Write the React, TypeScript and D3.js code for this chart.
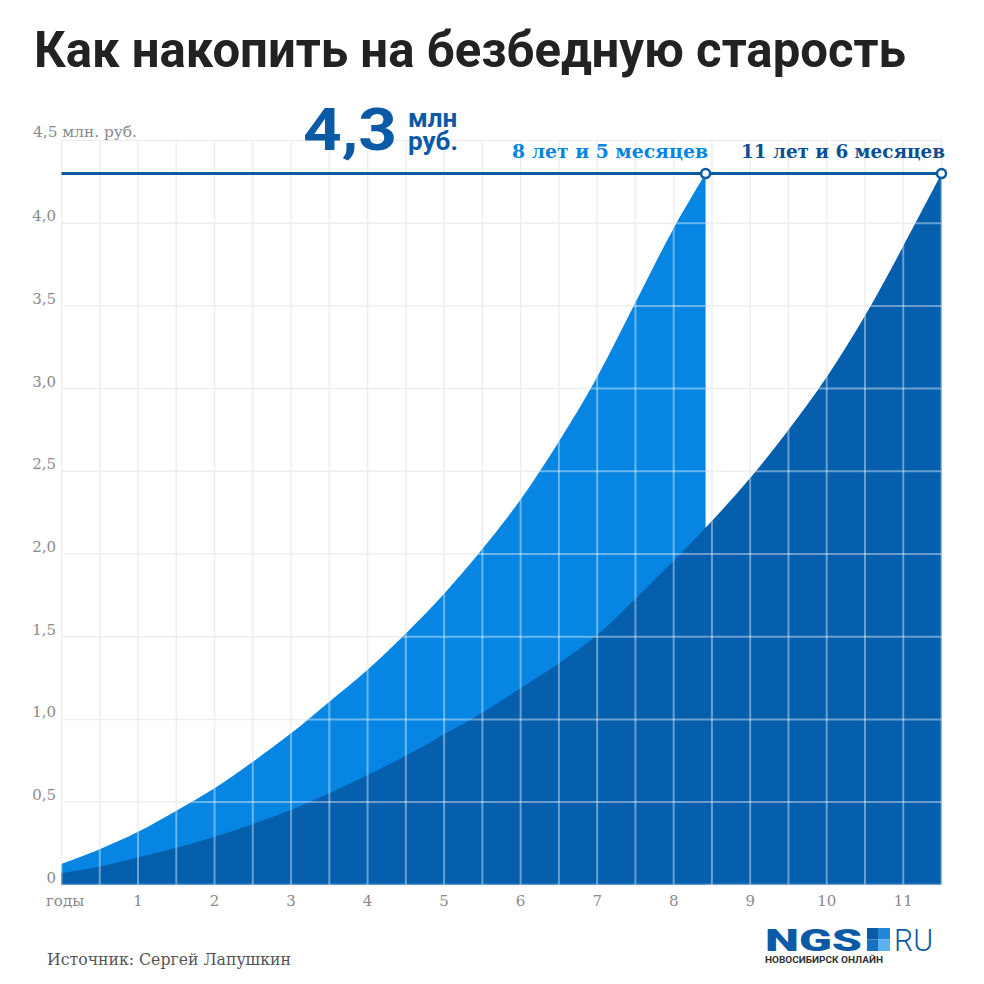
import React from "react";
import * as d3 from "d3";

const lightYears = [0, 0.5, 1, 1.5, 2, 2.5, 3, 3.5, 4, 4.5, 5, 5.5, 6, 6.5, 7, 7.5, 8, 8.417];
const lightValues = [0.126, 0.215, 0.32, 0.448, 0.583, 0.744, 0.916, 1.107, 1.3, 1.52, 1.76, 2.03, 2.33, 2.68, 3.07, 3.52, 3.97, 4.3];

const darkYears = [0, 0.5, 1, 1.5, 2, 2.5, 3, 3.5, 4, 4.5, 5, 5.5, 6, 6.5, 7, 7.5, 8, 8.5, 9, 9.5, 10, 10.5, 11, 11.5];
const darkValues = [0.07, 0.11, 0.166, 0.224, 0.29, 0.368, 0.452, 0.553, 0.664, 0.78, 0.91, 1.04, 1.19, 1.34, 1.51, 1.73, 1.96, 2.2, 2.46, 2.75, 3.07, 3.44, 3.86, 4.3];

const xTicks = [1, 2, 3, 4, 5, 6, 7, 8, 9, 10, 11];
const yTicks = [0, 0.5, 1, 1.5, 2, 2.5, 3, 3.5, 4];
const yTickLabels = ["0", "0,5", "1,0", "1,5", "2,0", "2,5", "3,0", "3,5", "4,0"];
const gridX = [0, 0.5, 1, 1.5, 2, 2.5, 3, 3.5, 4, 4.5, 5, 5.5, 6, 6.5, 7, 7.5, 8, 8.5, 9, 9.5, 10, 10.5, 11, 11.5];
const gridY = [0, 0.5, 1, 1.5, 2, 2.5, 3, 3.5, 4, 4.5];

const target = 4.3;
const lightEnd = 8.417;
const darkEnd = 11.5;

const title = "Как накопить на безбедную старость";
const topLabel = "4,5 млн. руб.";
const xAxisName = "годы";
const bigValue = "4,3";
const unit1 = "млн";
const unit2 = "руб.";
const lightLabel = "8 лет и 5 месяцев";
const darkLabel = "11 лет и 6 месяцев";
const source = "Источник: Сергей Лапушкин";

const LIGHT = "#0686e2";
const DARK = "#055fad";
const LINE = "#0b5aa6";

export default function App() {
  const x = d3.scaleLinear().domain([0, 11.5]).range([61.5, 941.5]);
  const y = d3.scaleLinear().domain([0, 4.5]).range([884.8, 140.5]);

  const area = d3
    .area<[number, number]>()
    .x((d) => x(d[0]))
    .y0(y(0))
    .y1((d) => y(d[1]))
    .curve(d3.curveCatmullRom.alpha(0.5));

  const lightData: [number, number][] = lightYears.map((t, i) => [t, lightValues[i]]);
  const darkData: [number, number][] = darkYears.map((t, i) => [t, darkValues[i]]);

  const slab = "'DejaVu Serif', serif";
  const slabC = "'DejaVu Serif Condensed', 'DejaVu Serif', serif";

  const grid = (stroke: string, w: number) => (
    <g stroke={stroke} strokeWidth={w}>
      {gridX.map((g) => (
        <line key={"gx" + g} x1={x(g)} x2={x(g)} y1={y(4.5)} y2={y(0)} />
      ))}
      {gridY.map((g) => (
        <line key={"gy" + g} x1={x(0)} x2={x(11.5)} y1={y(g)} y2={y(g)} />
      ))}
    </g>
  );

  return (
    <svg width={984} height={984} style={{ position: "absolute", left: 0, top: 0, background: "#fff" }}>
      <rect width={984} height={984} fill="#fff" />
      <text x={34} y={67} fontFamily="Roboto" fontWeight={700} fontSize={50} fill="#222" textLength={872} lengthAdjust="spacingAndGlyphs">
        {title}
      </text>

      {grid("#eeeeee", 1.5)}

      <path d={area(lightData) || ""} fill={LIGHT} />
      <path d={area(darkData) || ""} fill={DARK} />

      <clipPath id="areas">
        <path d={area(lightData) || ""} />
        <path d={area(darkData) || ""} />
      </clipPath>
      <g clipPath="url(#areas)">{grid("rgba(255,255,255,0.4)", 2)}</g>

      {/* y labels */}
      <text x={33} y={137} fontFamily={slab} fontSize={15} fill="#8a8a8a" textLength={104} lengthAdjust="spacingAndGlyphs">
        {topLabel}
      </text>
      {yTicks.map((t, i) => (
        <text key={"yt" + t} x={56} y={y(t) - 2} textAnchor="end" fontFamily={slab} fontSize={15} fill="#8a8a8a">
          {yTickLabels[i]}
        </text>
      ))}
      <text x={46} y={906} fontFamily={slab} fontSize={15} fill="#8a8a8a">
        {xAxisName}
      </text>
      {xTicks.map((t) => (
        <text key={"xt" + t} x={x(t)} y={906} textAnchor="middle" fontFamily={slab} fontSize={15} fill="#8a8a8a">
          {t}
        </text>
      ))}

      {/* target line */}
      <line x1={x(0)} x2={x(darkEnd)} y1={y(target)} y2={y(target)} stroke={LINE} strokeWidth={3} />
      <circle cx={x(lightEnd)} cy={y(target)} r={4.5} fill="#fff" stroke={LINE} strokeWidth={2.5} />
      <circle cx={x(darkEnd)} cy={y(target)} r={4.5} fill="#fff" stroke={LINE} strokeWidth={2.5} />

      <text x={303} y={150} fontFamily="Roboto" fontWeight={700} fontSize={60} fill={LINE} textLength={94} lengthAdjust="spacingAndGlyphs">
        {bigValue}
      </text>
      <text x={408} y={127} fontFamily="Roboto" fontWeight={700} fontSize={26} fill={LINE}>
        {unit1}
      </text>
      <text x={408} y={150} fontFamily="Roboto" fontWeight={700} fontSize={26} fill={LINE}>
        {unit2}
      </text>

      <text x={512} y={158} fontFamily={slabC} fontWeight={700} fontSize={19} fill={LIGHT} textLength={196} lengthAdjust="spacingAndGlyphs">
        {lightLabel}
      </text>
      <text x={741} y={158} fontFamily={slabC} fontWeight={700} fontSize={19} fill="#0a4f94" textLength={204} lengthAdjust="spacingAndGlyphs">
        {darkLabel}
      </text>

      <text x={47} y={965} fontFamily={slabC} fontSize={17} fill="#555" textLength={244} lengthAdjust="spacingAndGlyphs">
        {source}
      </text>

      {/* logo */}
      <text x={765} y={951} fontFamily="Roboto" fontWeight={900} fontSize={32} fill="#0a5aa5" textLength={97} lengthAdjust="spacingAndGlyphs">
        NGS
      </text>
      <rect x={867} y={928} width={11} height={11.5} fill="#0b5aa6" />
      <rect x={878} y={928} width={12} height={11.5} fill="#1f86d8" />
      <rect x={867} y={939.5} width={11} height={11.5} fill="#1670c0" />
      <rect x={878} y={939.5} width={12} height={11.5} fill="#5bb2ef" />
      <text x={894} y={951} fontFamily="Roboto" fontWeight={300} fontSize={32} fill="#0a5aa5" textLength={39} lengthAdjust="spacingAndGlyphs">
        RU
      </text>
      <text x={765} y={963} fontFamily="Roboto" fontWeight={700} fontSize={9} fill="#333" textLength={118} lengthAdjust="spacingAndGlyphs">
        НОВОСИБИРСК ОНЛАЙН
      </text>
    </svg>
  );
}
